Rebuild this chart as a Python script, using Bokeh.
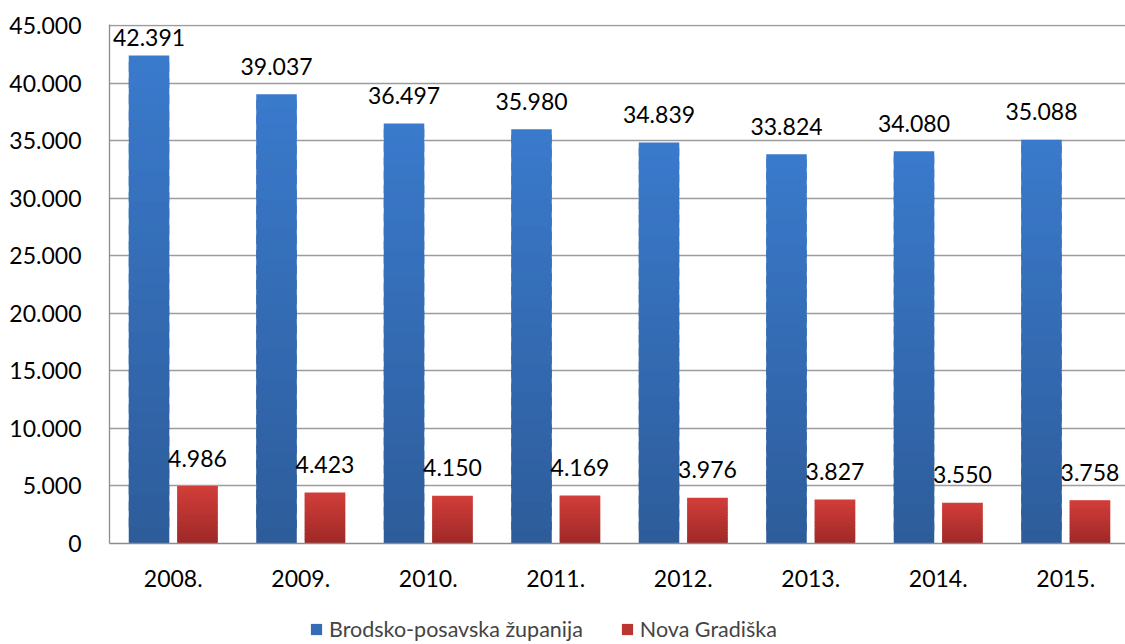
import numpy as np
from bokeh.plotting import figure
from bokeh.layouts import column
from bokeh.models import Range1d, FixedTicker, Legend, LegendItem, ColumnDataSource
from bokeh.core.properties import value
from bokeh.embed import file_html
from bokeh.resources import INLINE

# ---------------- data ----------------
years = ["2008.", "2009.", "2010.", "2011.", "2012.", "2013.", "2014.", "2015."]
brodsko = [42391, 39037, 36497, 35980, 34839, 33824, 34080, 35088]
nova = [4986, 4423, 4150, 4169, 3976, 3827, 3550, 3758]
series_names = ["Brodsko-posavska županija", "Nova Gradiška"]
y_ticks = [0, 5000, 10000, 15000, 20000, 25000, 30000, 35000, 40000, 45000]
y_tick_labels = ["0", "5.000", "10.000", "15.000", "20.000", "25.000",
                 "30.000", "35.000", "40.000", "45.000"]

FONT = "Lato"
FS = "23px"
BLUE_TOP, BLUE_BOT = (58, 122, 204), (45, 92, 154)
RED_TOP, RED_BOT = (210, 62, 58), (158, 41, 39)
GRID = "#9C9C9C"
N = 30

def fmt(v):
    return f"{v:,}".replace(",", ".")

def mix(c1, c2, t):
    return "#%02x%02x%02x" % tuple(int(round(a + (b - a) * t)) for a, b in zip(c1, c2))

def gradient_source(xs, vals, top_c, bot_c, n=N):
    d = dict(x=[], bottom=[], top=[], color=[])
    for x, v in zip(xs, vals):
        for k in range(n):
            d["x"].append(x)
            d["bottom"].append(v * k / n)
            d["top"].append(min(v, v * (k + 1.6) / n))
            d["color"].append(mix(bot_c, top_c, (k + 0.5) / n))
    return ColumnDataSource(d)

centers = np.arange(len(years)) + 0.5
xb = centers - 0.19
xr = centers + 0.19
bar_w = 0.318

p = figure(width=1125, height=600, output_backend="svg", toolbar_location=None,
           x_range=Range1d(0, 7.969), y_range=Range1d(0, 45090),
           min_border_left=109, min_border_top=24, min_border_right=0,
           min_border_bottom=57)
p.outline_line_color = None
p.background_fill_color = "white"
p.border_fill_color = "white"

src_b = gradient_source(xb, brodsko, BLUE_TOP, BLUE_BOT)
src_r = gradient_source(xr, nova, RED_TOP, RED_BOT)
p.vbar(x="x", bottom="bottom", top="top", width=bar_w, source=src_b,
       fill_color="color", line_color=None)
p.vbar(x="x", bottom="bottom", top="top", width=bar_w, source=src_r,
       fill_color="color", line_color=None)

# data labels (placed a fixed gap above each bar, kept inside the plot area)
yb = np.minimum(np.array(brodsko) + 2430, 43950)
yr = np.array(nova) + 2430
p.text(x=xb, y=yb, text=[fmt(v) for v in brodsko], text_align="center",
       text_baseline="alphabetic", text_font=value(FONT), text_font_size=FS,
       text_color="black")
p.text(x=xr, y=yr, text=[fmt(v) for v in nova], text_align="center",
       text_baseline="alphabetic", text_font=value(FONT), text_font_size=FS,
       text_color="black")

# axes
p.xaxis.ticker = FixedTicker(ticks=list(centers))
p.xaxis.major_label_overrides = {float(c): y for c, y in zip(centers, years)}
p.yaxis.ticker = FixedTicker(ticks=y_ticks)
p.yaxis.major_label_overrides = {t: l for t, l in zip(y_ticks, y_tick_labels)}
for ax in (p.xaxis[0], p.yaxis[0]):
    ax.major_tick_line_color = None
    ax.minor_tick_line_color = None
    ax.axis_line_color = "#8C8C8C"
    ax.axis_line_width = 1.3
    ax.major_label_text_font = FONT
    ax.major_label_text_font_size = FS
    ax.major_label_text_color = "black"
p.yaxis.major_label_standoff = 22
p.xaxis.major_label_standoff = 20

p.xgrid.grid_line_color = None
p.ygrid.ticker = FixedTicker(ticks=y_ticks)
p.ygrid.grid_line_color = GRID
p.ygrid.grid_line_width = 1.3

# legend strip (separate figure below the chart); legend swatches only
lf = figure(width=1125, height=44, output_backend="svg", toolbar_location=None,
            x_range=Range1d(0, 1), y_range=Range1d(0, 1),
            x_axis_location=None, y_axis_location=None,
            min_border=0)
lf.grid.visible = False
lf.outline_line_color = None
leg_b = ColumnDataSource(dict(x=[np.nan], bottom=[0], top=[0],
                              color=[mix(BLUE_BOT, BLUE_TOP, 0.55)]))
leg_r = ColumnDataSource(dict(x=[np.nan], bottom=[0], top=[0],
                              color=[mix(RED_BOT, RED_TOP, 0.55)]))
lb = lf.vbar(x="x", bottom="bottom", top="top", width=0.1, source=leg_b,
             fill_color="color", line_color=None)
lr = lf.vbar(x="x", bottom="bottom", top="top", width=0.1, source=leg_r,
             fill_color="color", line_color=None)
legend = Legend(items=[LegendItem(label=series_names[0], renderers=[lb], index=0),
                       LegendItem(label=series_names[1], renderers=[lr], index=0)],
                orientation="horizontal", location=(200, 2),
                glyph_width=14, glyph_height=14, label_standoff=6, spacing=37,
                label_text_font=FONT, label_text_font_size="21.5px",
                border_line_color=None, background_fill_alpha=0,
                padding=0, margin=0)
lf.add_layout(legend, "center")

open("out.html", "w").write(file_html(column(p, lf, spacing=0), INLINE))
